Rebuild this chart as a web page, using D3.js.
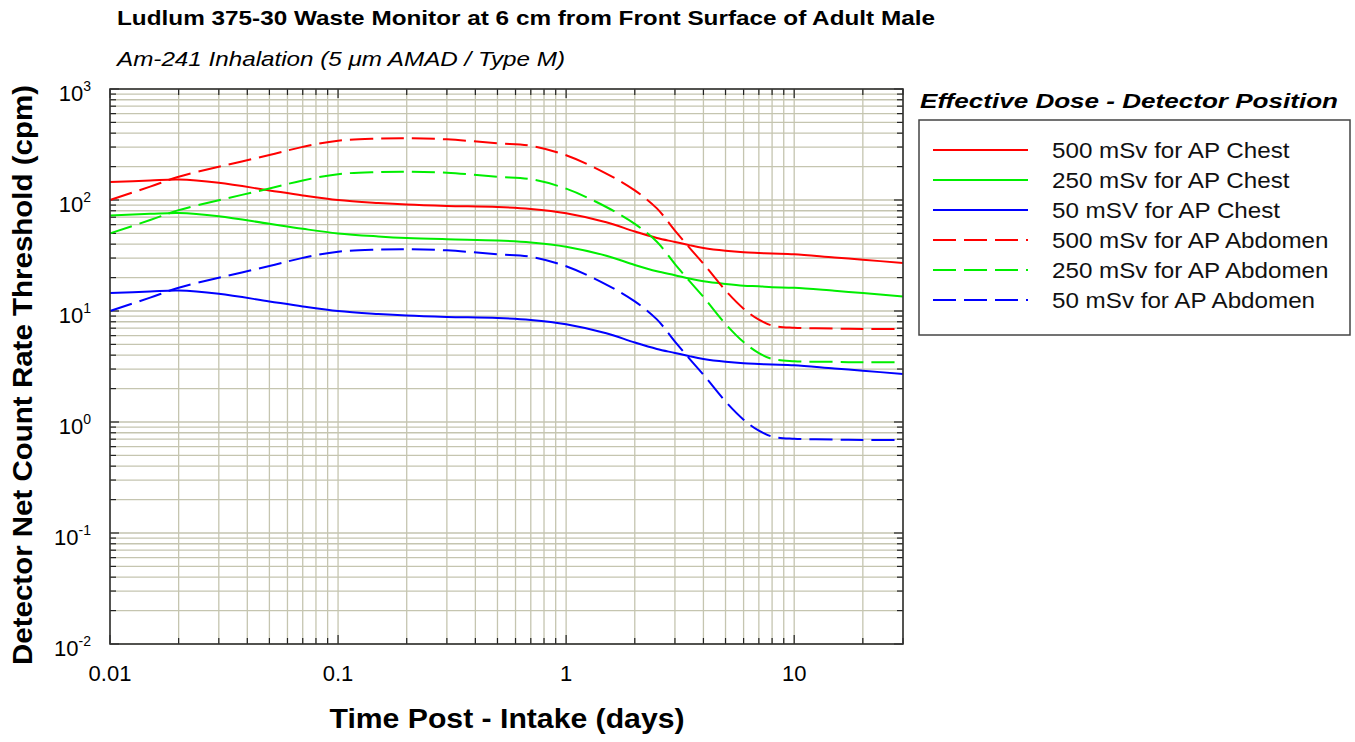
<!DOCTYPE html>
<html lang="en">
  <head>
    <meta charset="utf-8">
    <title>Ludlum 375-30 Waste Monitor</title>
    <script type="text/javascript" src="https://cdn.jsdelivr.net/npm/d3@7"></script>
    <style type="text/css">
      body { margin: 0; background: #fff; }
      svg { font-family: "Liberation Sans", Arial, sans-serif; }
      .grid line { stroke: #c5c5b0; stroke-width: 1.3; }
      .tick-mark { stroke: #222; stroke-width: 1.2; }
      .curve { fill: none; stroke-width: 2; }
    </style>
  </head>
  <body>
    <script type="text/javascript">
      var w = 1355;
      var h = 742;

      // time post intake (days)
      var times = [0.01, 0.015, 0.02, 0.03, 0.05, 0.07, 0.1, 0.15, 0.2, 0.3, 0.5, 0.7, 1, 1.5, 2, 2.5, 3, 3.5, 4, 5, 6, 7, 8, 10, 15, 20, 30];

      // count rate thresholds (cpm)
      var chest500 = [145, 150, 153, 143, 122, 110, 100, 94, 91, 88.5, 86.5, 83, 76, 63, 52, 45.5, 41.9, 39, 37, 34.9, 33.8, 33.3, 32.9, 32.4, 30.3, 29, 27];
      var chest250 = [72.5, 75, 76.5, 71.5, 61, 55, 50, 47, 45.5, 44.3, 43.2, 41.5, 38, 31.5, 26, 22.8, 21, 19.5, 18.5, 17.5, 16.9, 16.7, 16.4, 16.2, 15.2, 14.5, 13.5];
      var chest50 = [14.5, 15, 15.3, 14.3, 12.2, 11, 10, 9.4, 9.1, 8.85, 8.65, 8.3, 7.6, 6.3, 5.2, 4.55, 4.19, 3.9, 3.7, 3.49, 3.38, 3.33, 3.29, 3.24, 3.03, 2.9, 2.7];
      var abdomen500 = [100, 132, 162, 199, 254, 301, 342, 357, 360, 352, 324, 308, 253, 173, 122, 84, 53, 36.5, 26.7, 15.3, 10.5, 8.35, 7.4, 7.06, 6.95, 6.9, 6.9];
      var abdomen250 = [50, 66, 81, 99.5, 127, 150, 171, 178.5, 180, 176, 162, 154, 126.5, 86.5, 61, 42, 26.5, 18.3, 13.4, 7.65, 5.25, 4.18, 3.7, 3.53, 3.48, 3.45, 3.45];
      var abdomen50 = [10, 13.2, 16.2, 19.9, 25.4, 30.1, 34.2, 35.7, 36, 35.2, 32.4, 30.8, 25.3, 17.3, 12.2, 8.4, 5.3, 3.65, 2.67, 1.53, 1.05, 0.835, 0.74, 0.706, 0.695, 0.69, 0.69];

      var seriesNames = ["500 mSv for AP Chest", "250 mSv for AP Chest", "50 mSV for AP Chest",
                         "500 mSv for AP Abdomen", "250 mSv for AP Abdomen", "50 mSv for AP Abdomen"];
      var seriesValues = [chest500, chest250, chest50, abdomen500, abdomen250, abdomen50];
      var seriesColors = ["#ff0000", "#00ee00", "#0000ff", "#ff0000", "#00ee00", "#0000ff"];
      var seriesDashed = [false, false, false, true, true, true];

      var xMajor = [0.01, 0.1, 1, 10];
      var xMajorLabels = ["0.01", "0.1", "1", "10"];
      var yMajor = [0.01, 0.1, 1, 10, 100, 1000];
      var yExponents = ["-2", "-1", "0", "1", "2", "3"];

      // plot box (don't use "top" - clashes with window.top)
      var pLeft = 110, pRight = 903, pTop = 89, pBottom = 644;

      var xScale = d3.scaleLog().domain([0.01, 30]).range([pLeft, pRight]);
      var yScale = d3.scaleLog().domain([0.01, 1000]).range([pBottom, pTop]);

      var svg = d3.select("body")
            .append("svg")
            .attr("width", w)
            .attr("height", h);

      // grid lines at every 1..9 multiple
      var grid = svg.append("g").attr("class", "grid");
      grid.selectAll(".gx")
          .data(xScale.ticks())
          .enter()
          .append("line")
          .attr("class", "gx")
          .attr("x1", function(d) { return xScale(d); })
          .attr("x2", function(d) { return xScale(d); })
          .attr("y1", pTop)
          .attr("y2", pBottom);
      grid.selectAll(".gy")
          .data(yScale.ticks())
          .enter()
          .append("line")
          .attr("class", "gy")
          .attr("x1", pLeft)
          .attr("x2", pRight)
          .attr("y1", function(d) { return yScale(d); })
          .attr("y2", function(d) { return yScale(d); });

      // inward tick marks on all four sides
      function isMajor(d) {
        return Math.abs(Math.log10(d) - Math.round(Math.log10(d))) < 1e-6;
      }
      var ticks = svg.append("g");
      xScale.ticks().forEach(function(d) {
        var len = isMajor(d) ? 9 : 6;
        ticks.append("line").attr("class", "tick-mark")
            .attr("x1", xScale(d)).attr("x2", xScale(d))
            .attr("y1", pBottom).attr("y2", pBottom - len);
        ticks.append("line").attr("class", "tick-mark")
            .attr("x1", xScale(d)).attr("x2", xScale(d))
            .attr("y1", pTop).attr("y2", pTop + len);
      });
      yScale.ticks().forEach(function(d) {
        var len = isMajor(d) ? 9 : 6;
        ticks.append("line").attr("class", "tick-mark")
            .attr("x1", pLeft).attr("x2", pLeft + len)
            .attr("y1", yScale(d)).attr("y2", yScale(d));
        ticks.append("line").attr("class", "tick-mark")
            .attr("x1", pRight).attr("x2", pRight - len)
            .attr("y1", yScale(d)).attr("y2", yScale(d));
      });

      // curves
      var line = d3.line()
            .x(function(d) { return xScale(d[0]); })
            .y(function(d) { return yScale(d[1]); })
            .curve(d3.curveCatmullRom.alpha(0.5));

      seriesValues.forEach(function(vals, i) {
        svg.append("path")
            .datum(times.map(function(t, j) { return [t, vals[j]]; }))
            .attr("class", "curve")
            .attr("stroke", seriesColors[i])
            .attr("stroke-dasharray", seriesDashed[i] ? "23,8" : null)
            .attr("d", line);
      });

      // frame
      svg.append("rect")
          .attr("x", pLeft).attr("y", pTop)
          .attr("width", pRight - pLeft).attr("height", pBottom - pTop)
          .attr("fill", "none")
          .attr("stroke", "#333")
          .attr("stroke-width", 1.6);

      // x tick labels
      svg.selectAll(".xlab")
          .data(xMajor)
          .enter()
          .append("text")
          .attr("class", "xlab")
          .attr("x", function(d) { return xScale(d); })
          .attr("y", 681)
          .attr("text-anchor", "middle")
          .style("font-size", "22px")
          .text(function(d, i) { return xMajorLabels[i]; });

      // y tick labels, 10 with superscript exponent
      yMajor.forEach(function(d, i) {
        var t = svg.append("text")
            .attr("x", 91)
            .attr("y", yScale(d) + 12)
            .attr("text-anchor", "end")
            .style("font-size", "22px");
        t.append("tspan").text("10");
        t.append("tspan")
            .attr("dy", -10)
            .style("font-size", "14px")
            .text(yExponents[i]);
      });

      // titles
      svg.append("text")
          .attr("x", 117).attr("y", 25)
          .attr("textLength", 818)
          .attr("lengthAdjust", "spacingAndGlyphs")
          .style("font-size", "21px")
          .style("font-weight", "bold")
          .text("Ludlum 375-30 Waste Monitor at 6 cm from Front Surface of Adult Male");

      svg.append("text")
          .attr("x", 117).attr("y", 66)
          .attr("textLength", 448)
          .attr("lengthAdjust", "spacingAndGlyphs")
          .style("font-size", "21px")
          .style("font-style", "italic")
          .text("Am-241 Inhalation (5 \u03BCm AMAD / Type M)");

      // axis titles
      svg.append("text")
          .attr("x", 507).attr("y", 728)
          .attr("text-anchor", "middle")
          .attr("textLength", 355)
          .attr("lengthAdjust", "spacingAndGlyphs")
          .style("font-size", "27px")
          .style("font-weight", "bold")
          .text("Time Post - Intake (days)");

      svg.append("text")
          .attr("transform", "translate(32," + 375 + ") rotate(-90)")
          .attr("text-anchor", "middle")
          .attr("textLength", 580)
          .attr("lengthAdjust", "spacingAndGlyphs")
          .style("font-size", "27px")
          .style("font-weight", "bold")
          .text("Detector Net Count Rate Threshold (cpm)");

      // legend
      svg.append("text")
          .attr("x", 920).attr("y", 108)
          .attr("textLength", 418)
          .attr("lengthAdjust", "spacingAndGlyphs")
          .style("font-size", "20px")
          .style("font-weight", "bold")
          .style("font-style", "italic")
          .text("Effective Dose - Detector Position");

      svg.append("rect")
          .attr("x", 919).attr("y", 120)
          .attr("width", 431).attr("height", 215)
          .attr("fill", "#fff")
          .attr("stroke", "#444")
          .attr("stroke-width", 1.5);

      var legend = svg.selectAll(".legend")
            .data(seriesNames)
            .enter()
            .append("g")
            .attr("class", "legend")
            .attr("transform", function(d, i) { return "translate(0," + (150 + i * 30) + ")"; });

      legend.append("line")
          .attr("x1", 933).attr("x2", 1028)
          .attr("stroke", function(d, i) { return seriesColors[i]; })
          .attr("stroke-width", 2)
          .attr("stroke-dasharray", function(d, i) { return seriesDashed[i] ? "23,8" : null; });

      // reference font is a bit wider, so stretch horizontally
      legend.append("text")
          .attr("transform", "translate(1052,8) scale(1.1,1)")
          .style("font-size", "22px")
          .style("fill", "#111")
          .text(function(d) { return d; });
    </script>
  </body>
</html>
